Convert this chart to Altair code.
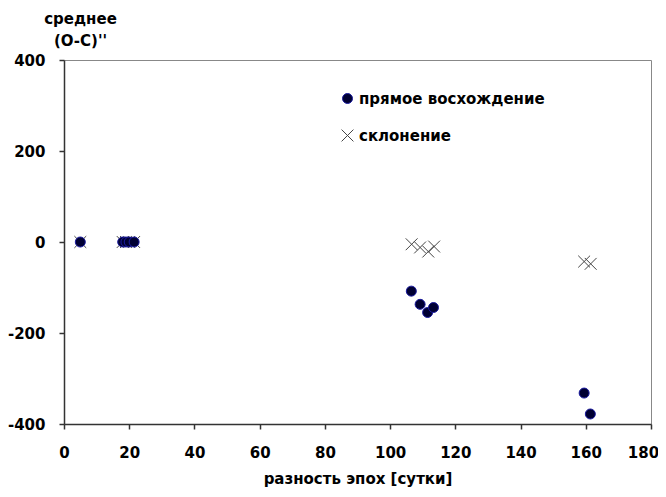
import altair as alt
import pandas as pd

# data
ra_x = [5, 18, 19, 20, 21.5, 106.5, 109.2, 111.5, 113.3, 159.5, 161.4]
ra_y = [0, 0, 0, 0, 0, -108, -137, -155, -144, -332, -378]
dec_x = [5, 18, 19, 20, 21.5, 106.6, 109.2, 111.7, 113.5, 159.5, 161.5]
dec_y = [0, 0, 0, 0, 0, -5, -12, -21, -10, -43, -48]
series_names = ["прямое восхождение", "склонение"]

rows = []
for x, y in zip(dec_x, dec_y):
    rows.append({"x": x, "y": y, "s": series_names[1]})
for x, y in zip(ra_x, ra_y):
    rows.append({"x": x, "y": y, "s": series_names[0]})
df = pd.DataFrame(rows)
df["order"] = [0 if s == series_names[1] else 1 for s in df["s"]]

FONT = "DejaVu Sans"
X_PATH = "M-1,-1L1,1M-1,1L1,-1"

legend = alt.Legend(
    title=None, orient="none", legendX=276, legendY=31,
    labelFont=FONT, labelFontSize=15, labelFontWeight="bold", labelColor="black",
    labelLimit=400, rowPadding=20, symbolStrokeWidth=1, labelOffset=4, padding=0,
)

chart = alt.Chart(df).mark_point(opacity=1, strokeWidth=1).encode(
    x=alt.X("x:Q", scale=alt.Scale(domain=[0, 180], nice=False),
            axis=alt.Axis(values=list(range(0, 181, 20)), title="разность эпох [сутки]",
                          grid=False, tickSize=5, labelPadding=16, titlePadding=11,
                          labelFlush=False,
                          labelOffset={"condition": {"test": "datum.value == 180", "value": -8}, "value": 0},
                          labelExpr="replace(datum.label, '\u2212', '-')")),
    y=alt.Y("y:Q", scale=alt.Scale(domain=[-400, 400], nice=False),
            axis=alt.Axis(values=[-400, -200, 0, 200, 400], title=["среднее", "(O-C)''"],
                          grid=False, tickSize=5, labelPadding=14,
                          labelExpr="replace(datum.label, '\u2212', '-')",
                          titleAngle=0, titleAlign="center", titleBaseline="alphabetic",
                          titleX=16, titleY=-37, titleLineHeight=22)),
    shape=alt.Shape("s:N", scale=alt.Scale(domain=series_names, range=["circle", X_PATH]), legend=legend),
    fill=alt.Fill("s:N", scale=alt.Scale(domain=series_names, range=["#000033", "transparent"]), legend=legend),
    stroke=alt.Stroke("s:N", scale=alt.Scale(domain=series_names, range=["#1a1aa0", "#444444"]), legend=legend),
    size=alt.Size("s:N", scale=alt.Scale(domain=series_names, range=[100, 140]), legend=legend),
    order=alt.Order("order:Q"),
).properties(
    width=587, height=364,
    autosize=alt.AutoSizeParams(type="none"),
    padding={"left": 56, "top": 52, "right": 7, "bottom": 65},
).configure_view(
    stroke="#888888", strokeWidth=1
).configure_axis(
    labelFont=FONT, labelFontSize=15, labelFontWeight="bold", labelColor="black",
    titleFont=FONT, titleFontSize=15, titleFontWeight="bold", titleColor="black",
    domainColor="#333333", domainWidth=1.5, tickColor="#333333", tickWidth=1.5,
)

chart.save("out.html", embed_options={"renderer": "svg", "actions": False})
